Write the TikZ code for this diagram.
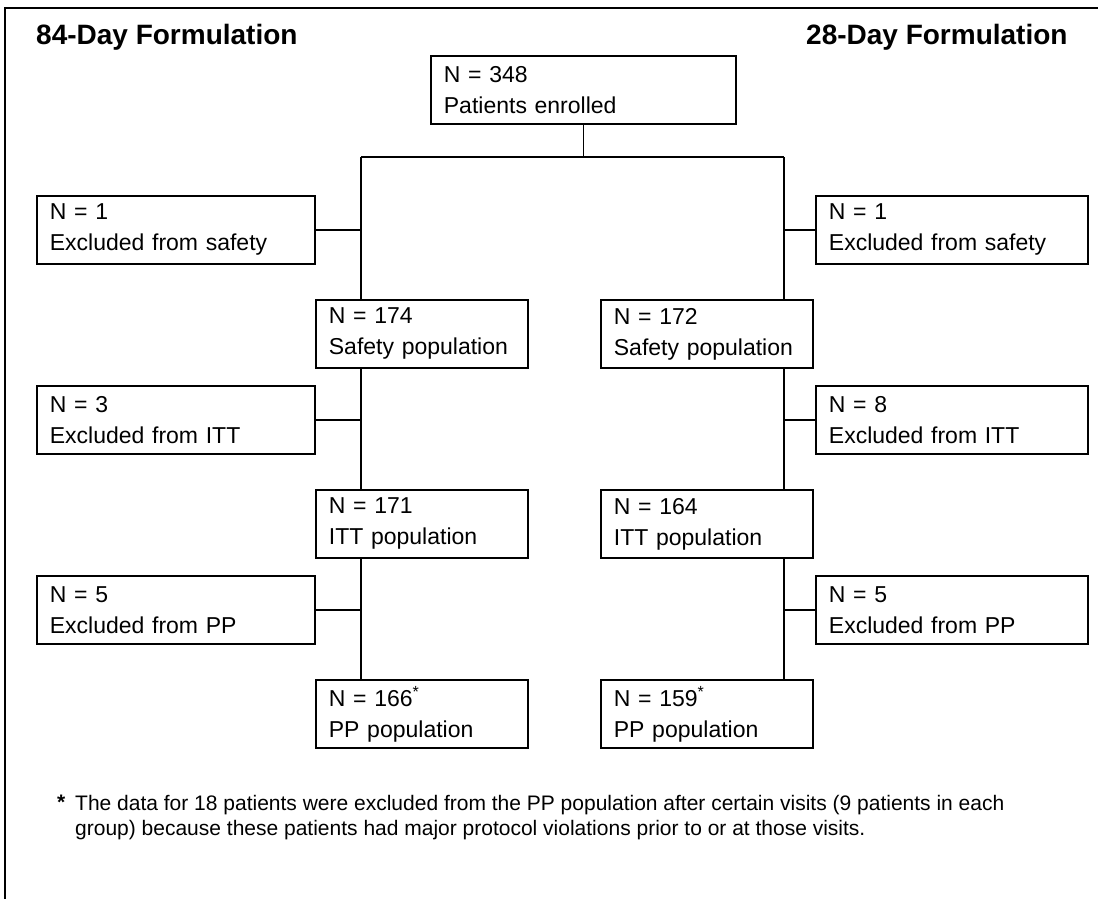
\documentclass[tikz,border=0pt]{standalone}
\usepackage{fontspec}
\setmainfont{Liberation Sans}
\begin{document}
\begin{tikzpicture}[x=1pt,y=-1pt,
  box/.style={draw, line width=1.8pt, anchor=north west, minimum height=68pt,
    align=left, inner xsep=13pt, inner ysep=0pt,
    font=\fontsize{23}{31}\selectfont},
  popbox/.style={box, text width=186pt},
  exbox/.style={box, text width=252pt},
  link/.style={line width=1.6pt},
  head/.style={anchor=west, inner sep=0pt, font=\fontsize{28}{32}\selectfont\bfseries},
  foot/.style={anchor=north west, inner sep=0pt, align=left, font=\fontsize{21}{25}\selectfont}]
\useasboundingbox (0,0) rectangle (1098,899);
\draw[line width=2pt] (5,899) -- (5,8) -- (1098,8);

\node[head] (h84) at (36,37) {84-Day Formulation};
\node[head] (h28) at (806,37) {28-Day Formulation};

\node[box, text width=279pt] (top) at (430,55) {N = 348\\Patients enrolled};

\node[exbox] (exL1) at (36,195) {N = 1\\Excluded from safety};
\node[exbox, text width=246pt] (exR1) at (815,195) {N = 1\\Excluded from safety};
\node[popbox] (popL1) at (315,299) {N = 174\\Safety population};
\node[popbox] (popR1) at (600,299) {N = 172\\Safety population};

\node[exbox] (exL2) at (36,385) {N = 3\\Excluded from ITT};
\node[exbox, text width=246pt] (exR2) at (815,385) {N = 8\\Excluded from ITT};
\node[popbox] (popL2) at (315,489) {N = 171\\ITT population};
\node[popbox] (popR2) at (600,489) {N = 164\\ITT population};

\node[exbox] (exL3) at (36,575) {N = 5\\Excluded from PP};
\node[exbox, text width=246pt] (exR3) at (815,575) {N = 5\\Excluded from PP};
\node[popbox] (popL3) at (315,679) {N = 166\textsuperscript{*}\\PP population};
\node[popbox] (popR3) at (600,679) {N = 159\textsuperscript{*}\\PP population};

\coordinate (sL) at (361,157);
\coordinate (sR) at (784,157);
\draw[link] (top.south) -- (top.south |- sL);
\draw[link] (sL) -- (sR);

\draw[link] (sL) -- (sL |- popL1.north);
\draw[link] (sL |- popL1.south) -- (sL |- popL2.north);
\draw[link] (sL |- popL2.south) -- (sL |- popL3.north);
\draw[link] (sR) -- (sR |- popR1.north);
\draw[link] (sR |- popR1.south) -- (sR |- popR2.north);
\draw[link] (sR |- popR2.south) -- (sR |- popR3.north);

\draw[link] (exL1.east) -- (exL1.east -| sL);
\draw[link] (exL2.east) -- (exL2.east -| sL);
\draw[link] (exL3.east) -- (exL3.east -| sL);
\draw[link] (exR1.west) -- (exR1.west -| sR);
\draw[link] (exR2.west) -- (exR2.west -| sR);
\draw[link] (exR3.west) -- (exR3.west -| sR);

\node[foot, font=\fontsize{21}{25}\selectfont\bfseries] (fnstar) at (57,795) {*};
\node[foot] (fn) at (75,795)
  {The data for 18 patients were excluded from the PP population after certain visits (9 patients in each\\
   group) because these patients had major protocol violations prior to or at those visits.};
\end{tikzpicture}
\end{document}
